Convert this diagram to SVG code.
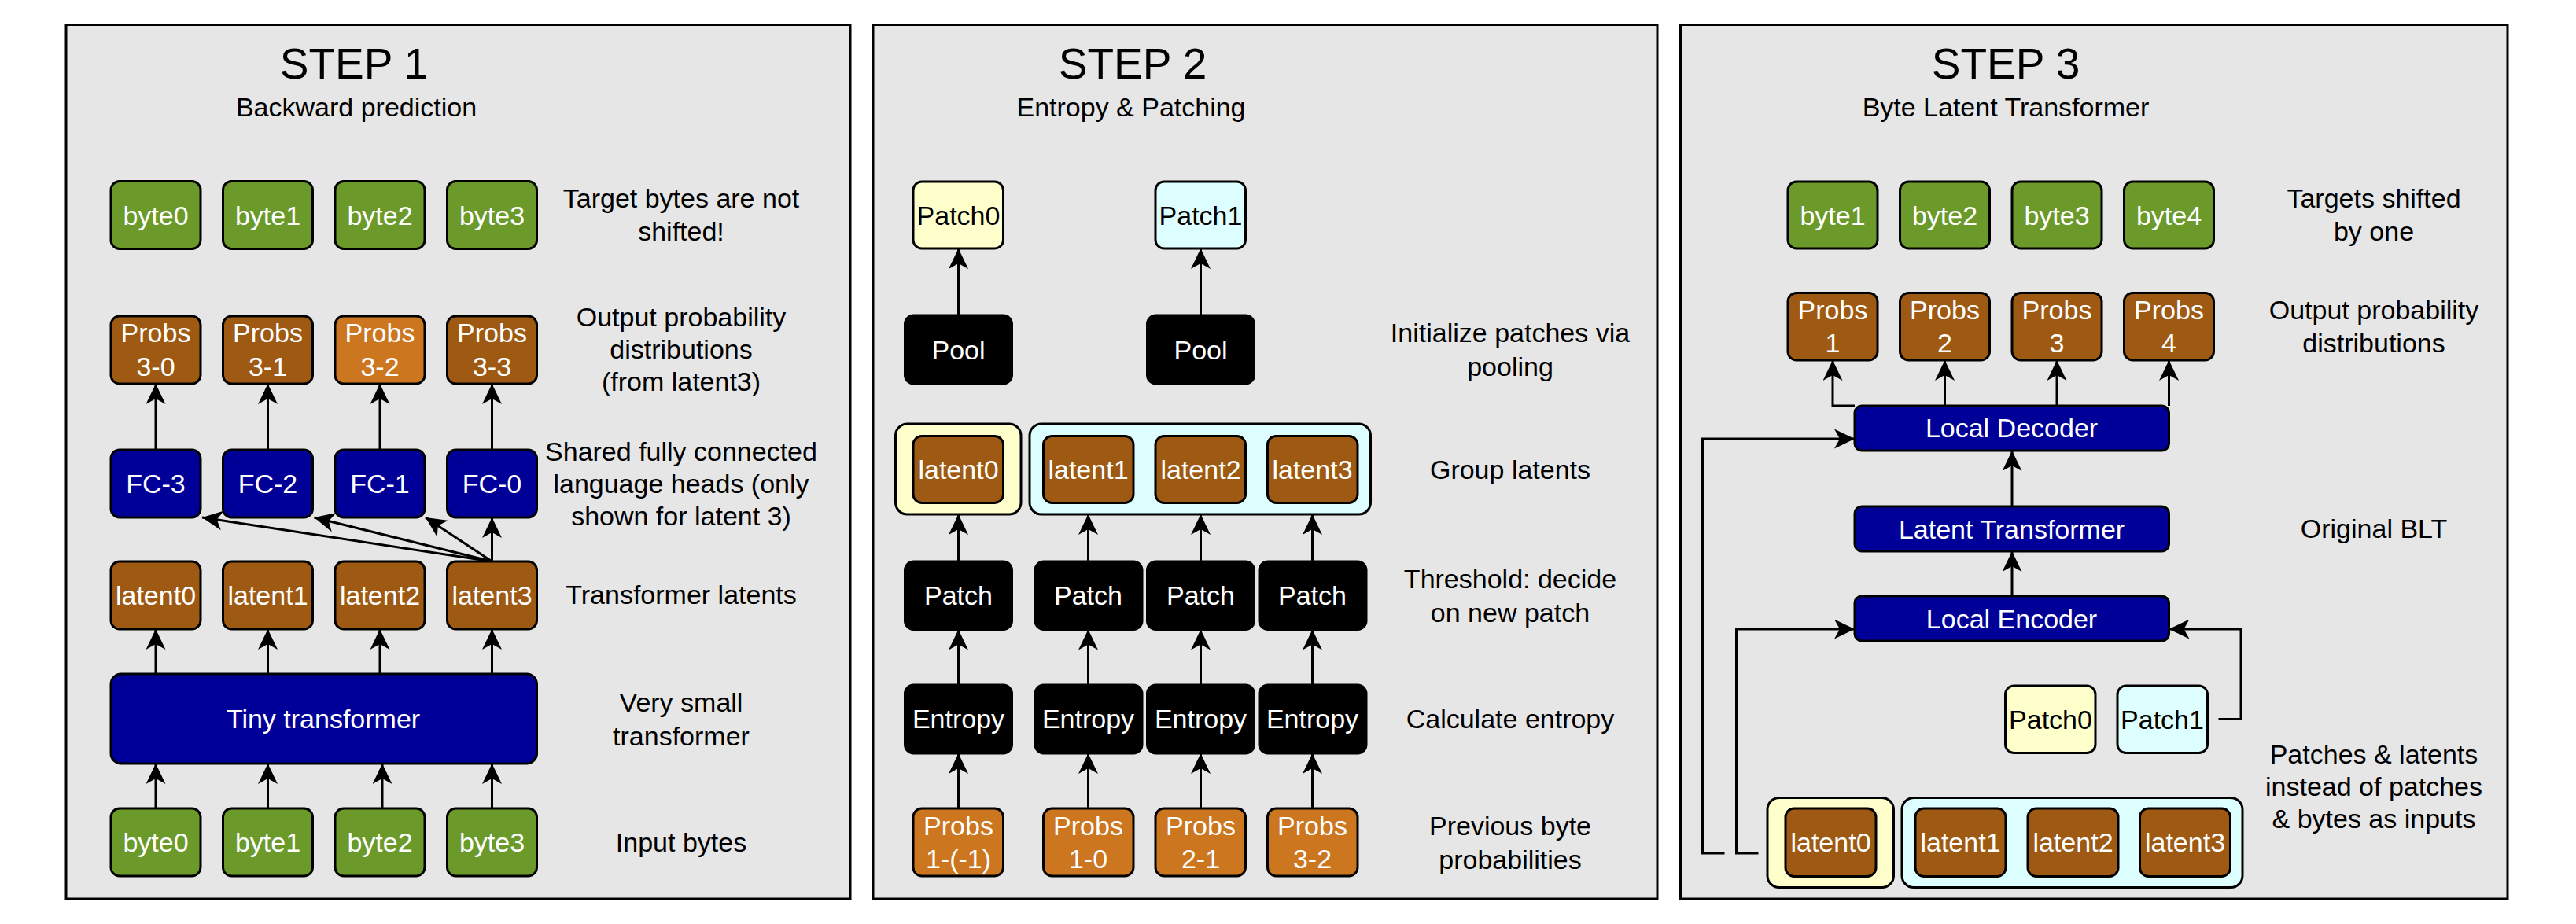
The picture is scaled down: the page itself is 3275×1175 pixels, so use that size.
<svg xmlns="http://www.w3.org/2000/svg" width="3275" height="1175" viewBox="0 0 3275 1175">
<defs>
<style>
.panel{fill:#E6E6E6;stroke:#000;stroke-width:3}
.bx{stroke:#000;stroke-width:3}
.green{fill:#6B9A2B}
.brown{fill:#9E5A13}
.orange{fill:#CC7620}
.navy{fill:#000099}
.blk{fill:#000}
.yel{fill:#FFFFCC}
.cyn{fill:#DDFFFF}
text{font-family:"Liberation Sans",Arial,Helvetica,sans-serif;font-size:34px;text-anchor:middle;fill:#000}
.w{fill:#fff}
.title{font-size:55px}
.edge{fill:none;stroke:#000;stroke-width:3}
</style>
<marker id="ah" viewBox="0 0 26 25" refX="26" refY="12.5" markerWidth="26" markerHeight="25" markerUnits="userSpaceOnUse" orient="auto">
<path d="M0,0 L26,12.5 L0,25 L7,12.5 Z" fill="#000"/>
</marker>
</defs>
<rect width="3275" height="1175" fill="#fff"/>

<!-- Panels -->
<g id="panel1"><rect class="panel" x="84" y="31.5" width="997" height="1111.5"/>
<text class="title" x="450" y="100">STEP 1</text><text x="453" y="148">Backward prediction</text></g>
<g id="panel2"><rect class="panel" x="1110" y="31.5" width="997" height="1111.5"/>
<text class="title" x="1440" y="100">STEP 2</text><text x="1438" y="148">Entropy &amp; Patching</text></g>
<g id="panel3"><rect class="panel" x="2136.5" y="31.5" width="1051.5" height="1111.5"/>
<text class="title" x="2550" y="100">STEP 3</text><text x="2550" y="148">Byte Latent Transformer</text></g>

<!-- Connectors -->
<g id="connectors" class="edge" marker-end="url(#ah)">
<!-- Panel 1 -->
<line x1="198" y1="572" x2="198" y2="488"/>
<line x1="340.5" y1="572" x2="340.5" y2="488"/>
<line x1="483" y1="572" x2="483" y2="488"/>
<line x1="625.5" y1="572" x2="625.5" y2="488"/>
<line x1="625.5" y1="714" x2="625.5" y2="658"/>
<line x1="625.5" y1="714" x2="541" y2="658"/>
<line x1="625.5" y1="714" x2="399.5" y2="658"/>
<line x1="625.5" y1="714" x2="257" y2="658"/>
<line x1="198" y1="857" x2="198" y2="800"/>
<line x1="340.5" y1="857" x2="340.5" y2="800"/>
<line x1="483" y1="857" x2="483" y2="800"/>
<line x1="625.5" y1="857" x2="625.5" y2="800"/>
<line x1="198" y1="1028" x2="198" y2="971"/>
<line x1="340.5" y1="1028" x2="340.5" y2="971"/>
<line x1="486" y1="1028" x2="486" y2="971"/>
<line x1="625.5" y1="1028" x2="625.5" y2="971"/>
<!-- Panel 2 -->
<line x1="1218.5" y1="401" x2="1218.5" y2="316"/>
<line x1="1526.5" y1="401" x2="1526.5" y2="316"/>
<line x1="1218.5" y1="714" x2="1218.5" y2="654"/>
<line x1="1383.5" y1="714" x2="1383.5" y2="654"/>
<line x1="1526.5" y1="714" x2="1526.5" y2="654"/>
<line x1="1668.5" y1="714" x2="1668.5" y2="654"/>
<line x1="1218.5" y1="871" x2="1218.5" y2="800.5"/>
<line x1="1383.5" y1="871" x2="1383.5" y2="800.5"/>
<line x1="1526.5" y1="871" x2="1526.5" y2="800.5"/>
<line x1="1668.5" y1="871" x2="1668.5" y2="800.5"/>
<line x1="1218.5" y1="1028" x2="1218.5" y2="958"/>
<line x1="1383.5" y1="1028" x2="1383.5" y2="958"/>
<line x1="1526.5" y1="1028" x2="1526.5" y2="958"/>
<line x1="1668.5" y1="1028" x2="1668.5" y2="958"/>
<!-- Panel 3 -->
<polyline points="2358,516 2330,516 2330,458"/>
<line x1="2472.5" y1="516" x2="2472.5" y2="458"/>
<line x1="2615" y1="516" x2="2615" y2="458"/>
<line x1="2757.5" y1="516" x2="2757.5" y2="458"/>
<line x1="2558" y1="644" x2="2558" y2="573"/>
<line x1="2558" y1="758" x2="2558" y2="701"/>
<polyline points="2192.5,1085 2164.5,1085 2164.5,558 2358,558"/>
<polyline points="2235.5,1085 2207.5,1085 2207.5,800 2358,800"/>
<polyline points="2820.5,914.5 2849,914.5 2849,800 2757.5,800"/>
</g>

<!-- Panel 1 nodes -->
<g id="p1-tbyte0"><rect class="bx green" x="141" y="230.5" width="114" height="86" rx="11"/><text class="w" x="198" y="285.5">byte0</text></g>
<g id="p1-tbyte1"><rect class="bx green" x="283.5" y="230.5" width="114" height="86" rx="11"/><text class="w" x="340.5" y="285.5">byte1</text></g>
<g id="p1-tbyte2"><rect class="bx green" x="426" y="230.5" width="114" height="86" rx="11"/><text class="w" x="483" y="285.5">byte2</text></g>
<g id="p1-tbyte3"><rect class="bx green" x="568.5" y="230.5" width="114" height="86" rx="11"/><text class="w" x="625.5" y="285.5">byte3</text></g>

<g id="p1-probs30"><rect class="bx brown" x="141" y="402" width="114" height="86" rx="11"/><text class="w" x="198" y="435">Probs</text><text class="w" x="198" y="477.5">3-0</text></g>
<g id="p1-probs31"><rect class="bx brown" x="283.5" y="402" width="114" height="86" rx="11"/><text class="w" x="340.5" y="435">Probs</text><text class="w" x="340.5" y="477.5">3-1</text></g>
<g id="p1-probs32"><rect class="bx orange" x="426" y="402" width="114" height="86" rx="11"/><text class="w" x="483" y="435">Probs</text><text class="w" x="483" y="477.5">3-2</text></g>
<g id="p1-probs33"><rect class="bx brown" x="568.5" y="402" width="114" height="86" rx="11"/><text class="w" x="625.5" y="435">Probs</text><text class="w" x="625.5" y="477.5">3-3</text></g>

<g id="p1-fc3"><rect class="bx navy" x="141" y="572" width="114" height="86" rx="11"/><text class="w" x="198" y="627">FC-3</text></g>
<g id="p1-fc2"><rect class="bx navy" x="283.5" y="572" width="114" height="86" rx="11"/><text class="w" x="340.5" y="627">FC-2</text></g>
<g id="p1-fc1"><rect class="bx navy" x="426" y="572" width="114" height="86" rx="11"/><text class="w" x="483" y="627">FC-1</text></g>
<g id="p1-fc0"><rect class="bx navy" x="568.5" y="572" width="114" height="86" rx="11"/><text class="w" x="625.5" y="627">FC-0</text></g>

<g id="p1-latent0"><rect class="bx brown" x="141" y="714" width="114" height="86" rx="11"/><text class="w" x="198" y="769">latent0</text></g>
<g id="p1-latent1"><rect class="bx brown" x="283.5" y="714" width="114" height="86" rx="11"/><text class="w" x="340.5" y="769">latent1</text></g>
<g id="p1-latent2"><rect class="bx brown" x="426" y="714" width="114" height="86" rx="11"/><text class="w" x="483" y="769">latent2</text></g>
<g id="p1-latent3"><rect class="bx brown" x="568.5" y="714" width="114" height="86" rx="11"/><text class="w" x="625.5" y="769">latent3</text></g>

<g id="p1-tiny"><rect class="bx navy" x="141" y="857" width="541.5" height="114" rx="13"/><text class="w" x="411" y="926">Tiny transformer</text></g>

<g id="p1-ibyte0"><rect class="bx green" x="141" y="1028" width="114" height="86" rx="11"/><text class="w" x="198" y="1083">byte0</text></g>
<g id="p1-ibyte1"><rect class="bx green" x="283.5" y="1028" width="114" height="86" rx="11"/><text class="w" x="340.5" y="1083">byte1</text></g>
<g id="p1-ibyte2"><rect class="bx green" x="426" y="1028" width="114" height="86" rx="11"/><text class="w" x="483" y="1083">byte2</text></g>
<g id="p1-ibyte3"><rect class="bx green" x="568.5" y="1028" width="114" height="86" rx="11"/><text class="w" x="625.5" y="1083">byte3</text></g>

<g id="p1-labels">
<text x="866" y="264">Target bytes are not</text><text x="866" y="306">shifted!</text>
<text x="866" y="414.5">Output probability</text><text x="866" y="455.5">distributions</text><text x="866" y="497">(from latent3)</text>
<text x="866" y="586">Shared fully connected</text><text x="866" y="627">language heads (only</text><text x="866" y="668">shown for latent 3)</text>
<text x="866" y="768">Transformer latents</text>
<text x="866" y="905">Very small</text><text x="866" y="947.5">transformer</text>
<text x="866" y="1082.5">Input bytes</text>
</g>

<!-- Panel 2 nodes -->
<g id="p2-patch0"><rect class="bx yel" x="1161" y="231" width="114.5" height="85" rx="11"/><text x="1218.5" y="285.5">Patch0</text></g>
<g id="p2-patch1"><rect class="bx cyn" x="1469" y="231" width="114.5" height="85" rx="11"/><text x="1526.5" y="285.5">Patch1</text></g>
<g id="p2-pool0"><rect class="bx blk" x="1150.5" y="401" width="136" height="87" rx="11"/><text class="w" x="1218.5" y="456.5">Pool</text></g>
<g id="p2-pool1"><rect class="bx blk" x="1458.5" y="401" width="136" height="87" rx="11"/><text class="w" x="1526.5" y="456.5">Pool</text></g>

<g id="p2-group0"><rect class="bx yel" x="1138.5" y="539" width="159.5" height="115" rx="15"/>
<g id="p2-latent0"><rect class="bx brown" x="1161" y="554.5" width="114.5" height="85" rx="11"/><text class="w" x="1218.5" y="609">latent0</text></g></g>
<g id="p2-group1"><rect class="bx cyn" x="1309" y="539" width="433.5" height="115" rx="15"/>
<g id="p2-latent1"><rect class="bx brown" x="1326.5" y="554.5" width="114.5" height="85" rx="11"/><text class="w" x="1383.5" y="609">latent1</text></g>
<g id="p2-latent2"><rect class="bx brown" x="1469" y="554.5" width="114.5" height="85" rx="11"/><text class="w" x="1526.5" y="609">latent2</text></g>
<g id="p2-latent3"><rect class="bx brown" x="1611.5" y="554.5" width="114.5" height="85" rx="11"/><text class="w" x="1668.5" y="609">latent3</text></g></g>

<g id="p2-thr0"><rect class="bx blk" x="1150.5" y="714" width="136" height="86.5" rx="11"/><text class="w" x="1218.5" y="769">Patch</text></g>
<g id="p2-thr1"><rect class="bx blk" x="1316" y="714" width="136" height="86.5" rx="11"/><text class="w" x="1383.5" y="769">Patch</text></g>
<g id="p2-thr2"><rect class="bx blk" x="1458.5" y="714" width="136" height="86.5" rx="11"/><text class="w" x="1526.5" y="769">Patch</text></g>
<g id="p2-thr3"><rect class="bx blk" x="1601" y="714" width="136" height="86.5" rx="11"/><text class="w" x="1668.5" y="769">Patch</text></g>

<g id="p2-ent0"><rect class="bx blk" x="1150.5" y="871" width="136" height="87" rx="11"/><text class="w" x="1218.5" y="926">Entropy</text></g>
<g id="p2-ent1"><rect class="bx blk" x="1316" y="871" width="136" height="87" rx="11"/><text class="w" x="1383.5" y="926">Entropy</text></g>
<g id="p2-ent2"><rect class="bx blk" x="1458.5" y="871" width="136" height="87" rx="11"/><text class="w" x="1526.5" y="926">Entropy</text></g>
<g id="p2-ent3"><rect class="bx blk" x="1601" y="871" width="136" height="87" rx="11"/><text class="w" x="1668.5" y="926">Entropy</text></g>

<g id="p2-probs0"><rect class="bx orange" x="1161" y="1028" width="114.5" height="86" rx="11"/><text class="w" x="1218.5" y="1061.5">Probs</text><text class="w" x="1218.5" y="1104">1-(-1)</text></g>
<g id="p2-probs1"><rect class="bx orange" x="1326.5" y="1028" width="114.5" height="86" rx="11"/><text class="w" x="1383.5" y="1061.5">Probs</text><text class="w" x="1383.5" y="1104">1-0</text></g>
<g id="p2-probs2"><rect class="bx orange" x="1469" y="1028" width="114.5" height="86" rx="11"/><text class="w" x="1526.5" y="1061.5">Probs</text><text class="w" x="1526.5" y="1104">2-1</text></g>
<g id="p2-probs3"><rect class="bx orange" x="1611.5" y="1028" width="114.5" height="86" rx="11"/><text class="w" x="1668.5" y="1061.5">Probs</text><text class="w" x="1668.5" y="1104">3-2</text></g>

<g id="p2-labels">
<text x="1920" y="435">Initialize patches via</text><text x="1920" y="477.5">pooling</text>
<text x="1920" y="609">Group latents</text>
<text x="1920" y="748">Threshold: decide</text><text x="1920" y="791">on new patch</text>
<text x="1920" y="926">Calculate entropy</text>
<text x="1920" y="1062">Previous byte</text><text x="1920" y="1105">probabilities</text>
</g>

<!-- Panel 3 nodes -->
<g id="p3-byte1"><rect class="bx green" x="2273" y="231" width="114" height="85" rx="11"/><text class="w" x="2330" y="285.5">byte1</text></g>
<g id="p3-byte2"><rect class="bx green" x="2415.5" y="231" width="114" height="85" rx="11"/><text class="w" x="2472.5" y="285.5">byte2</text></g>
<g id="p3-byte3"><rect class="bx green" x="2558" y="231" width="114" height="85" rx="11"/><text class="w" x="2615" y="285.5">byte3</text></g>
<g id="p3-byte4"><rect class="bx green" x="2700.5" y="231" width="114" height="85" rx="11"/><text class="w" x="2757.5" y="285.5">byte4</text></g>

<g id="p3-probs1"><rect class="bx brown" x="2273" y="372.5" width="114" height="85.5" rx="11"/><text class="w" x="2330" y="405.5">Probs</text><text class="w" x="2330" y="447.5">1</text></g>
<g id="p3-probs2"><rect class="bx brown" x="2415.5" y="372.5" width="114" height="85.5" rx="11"/><text class="w" x="2472.5" y="405.5">Probs</text><text class="w" x="2472.5" y="447.5">2</text></g>
<g id="p3-probs3"><rect class="bx brown" x="2558" y="372.5" width="114" height="85.5" rx="11"/><text class="w" x="2615" y="405.5">Probs</text><text class="w" x="2615" y="447.5">3</text></g>
<g id="p3-probs4"><rect class="bx brown" x="2700.5" y="372.5" width="114" height="85.5" rx="11"/><text class="w" x="2757.5" y="405.5">Probs</text><text class="w" x="2757.5" y="447.5">4</text></g>

<g id="p3-decoder"><rect class="bx navy" x="2358" y="516" width="399.5" height="57" rx="9"/><text class="w" x="2557.5" y="556">Local Decoder</text></g>
<g id="p3-lt"><rect class="bx navy" x="2358" y="644" width="399.5" height="57" rx="9"/><text class="w" x="2557.5" y="684.5">Latent Transformer</text></g>
<g id="p3-encoder"><rect class="bx navy" x="2358" y="758" width="399.5" height="57" rx="9"/><text class="w" x="2557.5" y="798.5">Local Encoder</text></g>

<g id="p3-patch0"><rect class="bx yel" x="2549.5" y="872" width="114.5" height="85.5" rx="11"/><text x="2607" y="926.5">Patch0</text></g>
<g id="p3-patch1"><rect class="bx cyn" x="2692" y="872" width="114.5" height="85.5" rx="11"/><text x="2749" y="926.5">Patch1</text></g>

<g id="p3-group0"><rect class="bx yel" x="2247" y="1014.5" width="160.5" height="114" rx="15"/>
<g id="p3-latent0"><rect class="bx brown" x="2270" y="1028" width="115" height="86.5" rx="11"/><text class="w" x="2327.5" y="1083">latent0</text></g></g>
<g id="p3-group1"><rect class="bx cyn" x="2418" y="1014.5" width="433" height="114" rx="15"/>
<g id="p3-latent1"><rect class="bx brown" x="2435" y="1028" width="115" height="86.5" rx="11"/><text class="w" x="2492.5" y="1083">latent1</text></g>
<g id="p3-latent2"><rect class="bx brown" x="2578" y="1028" width="115" height="86.5" rx="11"/><text class="w" x="2635.5" y="1083">latent2</text></g>
<g id="p3-latent3"><rect class="bx brown" x="2720.5" y="1028" width="115" height="86.5" rx="11"/><text class="w" x="2778" y="1083">latent3</text></g></g>

<g id="p3-labels">
<text x="3018" y="264">Targets shifted</text><text x="3018" y="306">by one</text>
<text x="3018" y="405.5">Output probability</text><text x="3018" y="447.5">distributions</text>
<text x="3018" y="684">Original BLT</text>
<text x="3018" y="971">Patches &amp; latents</text><text x="3018" y="1012">instead of patches</text><text x="3018" y="1053">&amp; bytes as inputs</text>
</g>
</svg>
